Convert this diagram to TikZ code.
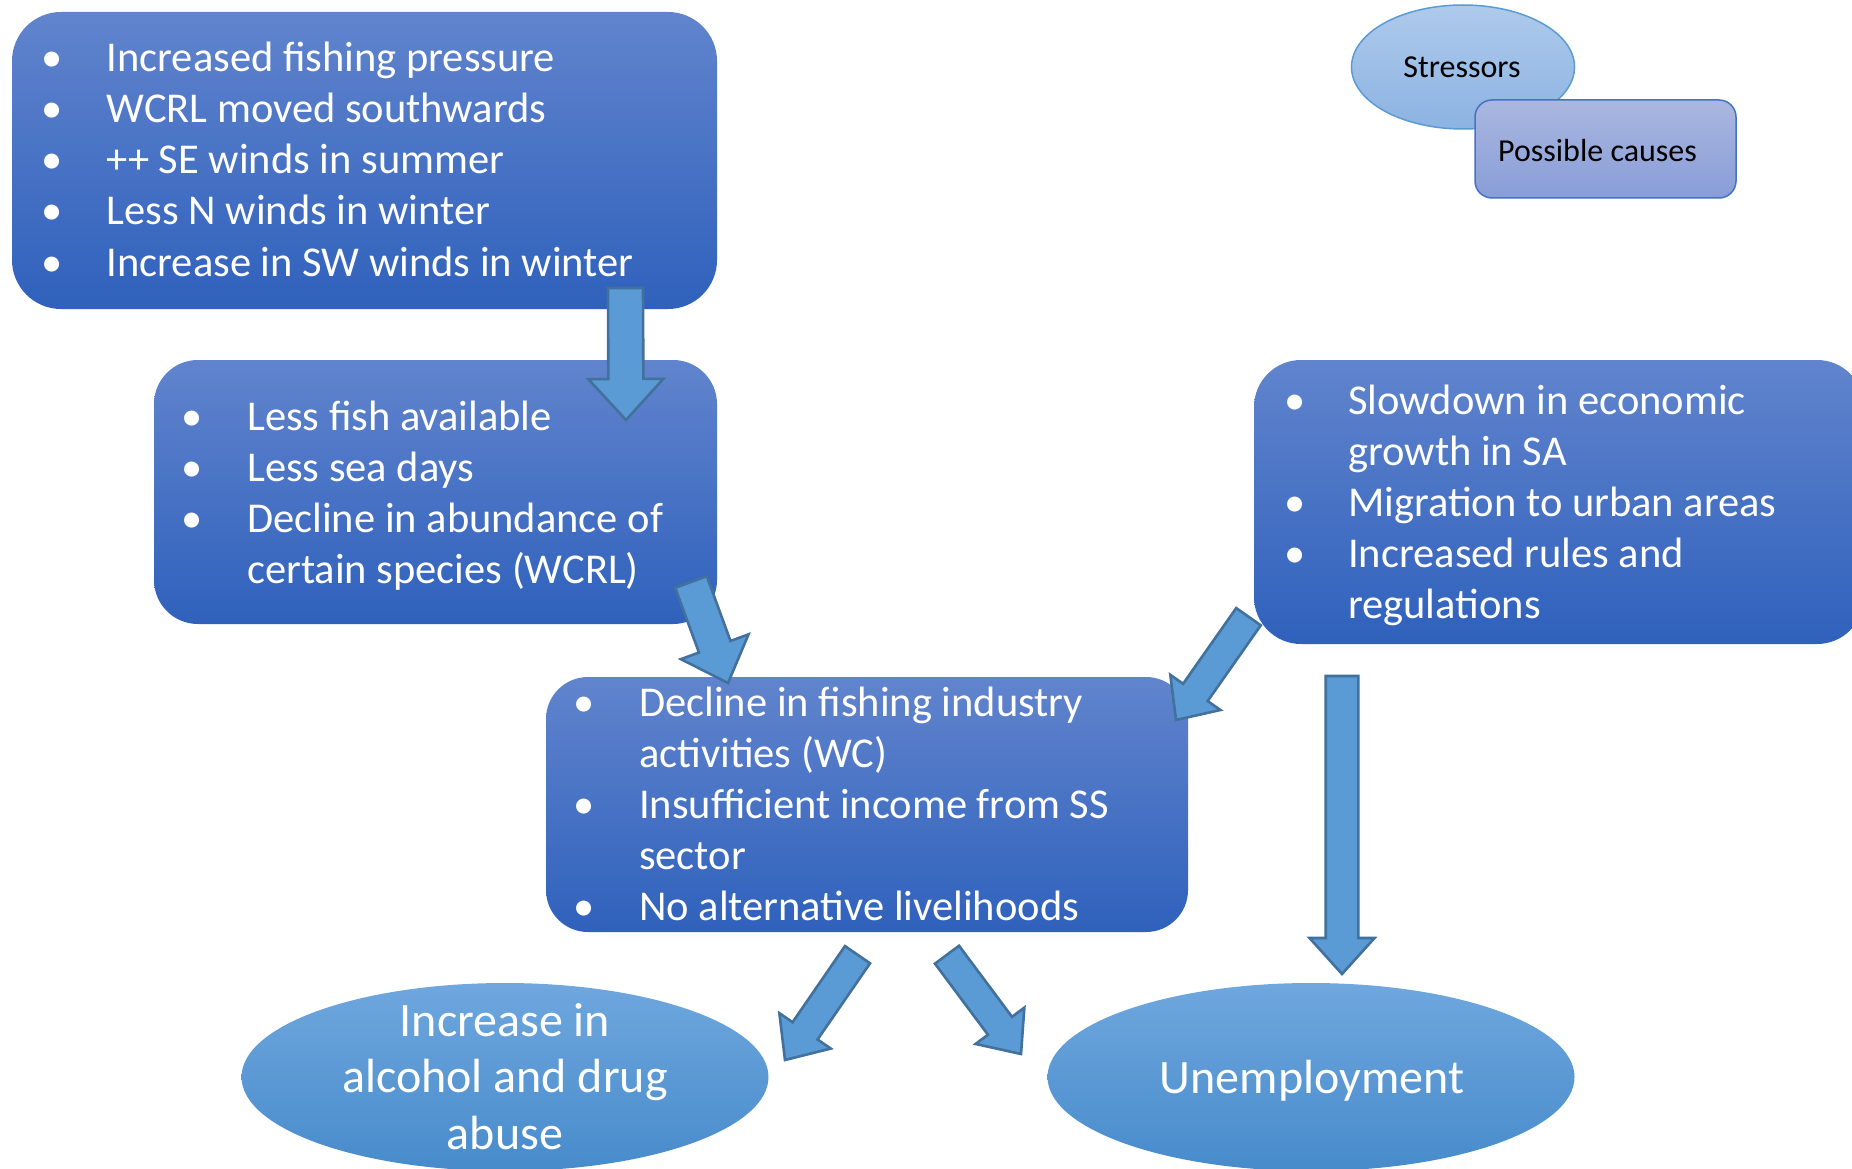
\documentclass[tikz,border=0pt]{standalone}
\usepackage{fontspec}
\setmainfont{Carlito}
\usetikzlibrary{calc,shapes.geometric}

\definecolor{boxtop}{HTML}{6184CD}
\definecolor{boxbot}{HTML}{2F61BC}
\definecolor{ovaltop}{HTML}{6FA7DE}
\definecolor{ovalbot}{HTML}{478BCB}
\definecolor{keyovaltop}{HTML}{AECAEB}
\definecolor{keyovalbot}{HTML}{8CB3E2}
\definecolor{keyovaledge}{HTML}{5B9BD5}
\definecolor{keyboxtop}{HTML}{AAB7E0}
\definecolor{keyboxbot}{HTML}{889DD7}
\definecolor{keyboxedge}{HTML}{4472C4}
\definecolor{arrowfill}{HTML}{5B9BD5}
\definecolor{arrowedge}{HTML}{41719C}

\tikzset{
  causebox/.style={rectangle, rounded corners=#1, top color=boxtop,
    bottom color=boxbot, draw=none, inner sep=0pt, outer sep=0pt},
  effectoval/.style={ellipse, top color=ovaltop, bottom color=ovalbot,
    draw=none, inner sep=0pt, outer sep=0pt},
  itemline/.style={anchor=base west, inner sep=0pt, text=white,
    font=\fontsize{42.5}{51}\selectfont},
  itembullet/.style={anchor=base, inner sep=0pt, text=white,
    font=\fontsize{42.5}{51}\selectfont},
  ovaltext/.style={anchor=base, inner sep=0pt, text=white,
    font=\fontsize{48}{57}\selectfont},
  keytext/.style={anchor=base, inner sep=0pt, text=black,
    font=\fontsize{32}{38}\selectfont},
  arrowshape/.style={fill=arrowfill, draw=arrowedge, line width=2.6pt,
    line join=miter},
}

% Block arrow: #1 tail, #2 tip, #3 half shaft width, #4 half head width, #5 head length
\newcommand\drawfatarrow[5]{%
  \coordinate (hb) at ($(#2)!#5pt!(#1)$);
  \draw[arrowshape]
    ($(#1)!#3pt!90:(#2)$) -- ($(hb)!#3pt!90:(#2)$) -- ($(hb)!#4pt!90:(#2)$)
    -- (#2)
    -- ($(hb)!#4pt!-90:(#2)$) -- ($(hb)!#3pt!-90:(#2)$) -- ($(#1)!#3pt!-90:(#2)$)
    -- cycle;}

\begin{document}
\begin{tikzpicture}[x=1pt, y=-1pt]
\useasboundingbox[fill=white] (0,0) rectangle (1852,1169);

% ---- cause boxes ----
\node[causebox=49pt, minimum width=705pt, minimum height=297pt] (box1) at (364.5,160.5) {};
\node[causebox=44pt, minimum width=563pt, minimum height=264pt] (box2) at (435.5,492) {};
\node[causebox=42pt, minimum width=642pt, minimum height=255pt] (box3) at (867,804.5) {};
\node[causebox=47pt, minimum width=610pt, minimum height=284pt] (box4) at (1559,502) {};

% ---- outcome ovals ----
\node[effectoval, minimum width=527pt, minimum height=188pt] (abuse) at (505,1077) {};
\node[effectoval, minimum width=527pt, minimum height=188pt] (unemp) at (1311,1077) {};

% ---- key ----
\node[ellipse, top color=keyovaltop, bottom color=keyovalbot, draw=keyovaledge,
  line width=1.5pt, minimum width=223pt, minimum height=124pt, inner sep=0pt] (keyoval) at (1463,67) {};
\node[rectangle, rounded corners=17pt, top color=keyboxtop, bottom color=keyboxbot,
  draw=keyboxedge, line width=1.5pt, minimum width=261pt, minimum height=98pt,
  inner sep=0pt] (keybox) at (1605.5,149) {};
\node[keytext] (keyovaltxt) at (1462,78) {Stressors};
\node[keytext] (keyboxtxt) at (1597.5,162) {Possible causes};

% ---- box 1 text ----
\node[itembullet] (b1p1) at (52.5,72) {•};
\node[itemline]   (b1t1) at (106.5,72) {Increased fishing pressure};
\node[itembullet] (b1p2) at (52.5,123) {•};
\node[itemline]   (b1t2) at (106.5,123) {WCRL moved southwards};
\node[itembullet] (b1p3) at (52.5,174) {•};
\node[itemline]   (b1t3) at (106.5,174) {++ SE winds in summer};
\node[itembullet] (b1p4) at (52.5,225) {•};
\node[itemline]   (b1t4) at (106.5,225) {Less N winds in winter};
\node[itembullet] (b1p5) at (52.5,276) {•};
\node[itemline]   (b1t5) at (106.5,276) {Increase in SW winds in winter};

% ---- box 2 text ----
\node[itembullet] (b2p1) at (192.5,430) {•};
\node[itemline]   (b2t1) at (247,430) {Less fish available};
\node[itembullet] (b2p2) at (192.5,481) {•};
\node[itemline]   (b2t2) at (247,481) {Less sea days};
\node[itembullet] (b2p3) at (192.5,532) {•};
\node[itemline]   (b2t3) at (247,532) {Decline in abundance of};
\node[itemline]   (b2t4) at (247,583) {certain species (WCRL)};

% ---- box 3 text ----
\node[itembullet] (b3p1) at (584,716) {•};
\node[itemline]   (b3t1) at (639,716) {Decline in fishing industry};
\node[itemline]   (b3t2) at (639,767) {activities (WC)};
\node[itembullet] (b3p3) at (584,818) {•};
\node[itemline]   (b3t3) at (639,818) {Insufficient income from SS};
\node[itemline]   (b3t4) at (639,869) {sector};
\node[itembullet] (b3p5) at (584,920) {•};
\node[itemline]   (b3t5) at (639,920) {No alternative livelihoods};

% ---- box 4 text ----
\node[itembullet] (b4p1) at (1295.5,414) {•};
\node[itemline]   (b4t1) at (1348,414) {Slowdown in economic};
\node[itemline]   (b4t2) at (1348,465) {growth in SA};
\node[itembullet] (b4p3) at (1295.5,516) {•};
\node[itemline]   (b4t3) at (1348,516) {Migration to urban areas};
\node[itembullet] (b4p4) at (1295.5,567) {•};
\node[itemline]   (b4t4) at (1348,567) {Increased rules and};
\node[itemline]   (b4t5) at (1348,618) {regulations};

% ---- oval text ----
\node[ovaltext] (abuse1) at (505,1036) {Increase in};
\node[ovaltext] (abuse2) at (505,1092) {alcohol and drug};
\node[ovaltext] (abuse3) at (505,1149) {abuse};
\node[ovaltext] (unemptxt) at (1312,1093) {Unemployment};

% ---- block arrows ----
\coordinate (aT) at (625.5,288);   \coordinate (aP) at (626,420);
\coordinate (bT) at (691,582);     \coordinate (bP) at (728,683);
\coordinate (cT) at (1248.5,616.7);\coordinate (cP) at (1176,720);
\coordinate (dT) at (857.5,954.7); \coordinate (dP) at (785,1060);
\coordinate (eT) at (947,954.7);   \coordinate (eP) at (1021,1054);
\coordinate (fT) at (1342,676);    \coordinate (fP) at (1342,974);

\drawfatarrow{aT}{aP}{17.5}{37.5}{41}
\drawfatarrow{bT}{bP}{16.8}{36}{38.6}
\drawfatarrow{cT}{cP}{15}{30.6}{33.7}
\drawfatarrow{dT}{dP}{15.2}{31.2}{35.4}
\drawfatarrow{eT}{eP}{15}{30.4}{35.2}
\drawfatarrow{fT}{fP}{16.3}{32.5}{36}
\end{tikzpicture}
\end{document}
